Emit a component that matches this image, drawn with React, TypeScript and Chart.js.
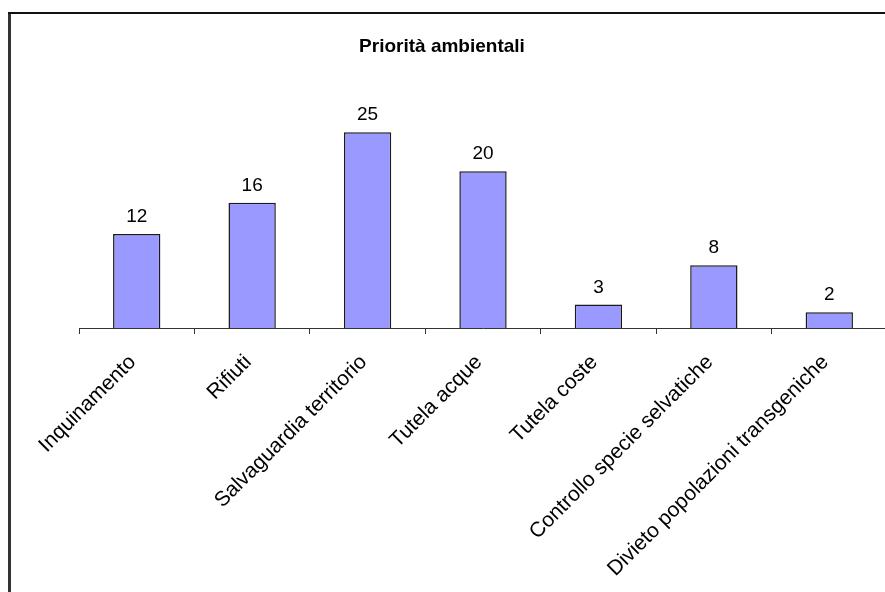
import React, { useEffect, useRef } from "react";
import { Chart, registerables } from "chart.js";

Chart.register(...registerables);

const TITLE = "Priorità ambientali";
const categories = [
  "Inquinamento",
  "Rifiuti",
  "Salvaguardia territorio",
  "Tutela acque",
  "Tutela coste",
  "Controllo specie selvatiche",
  "Divieto popolazioni transgeniche",
];
const values = [12, 16, 25, 20, 3, 8, 2];

const FONT = "'Liberation Sans', Arial, sans-serif";

const framePlugin = {
  id: "frame",
  beforeDraw(chart: any) {
    const ctx = chart.ctx;
    ctx.save();
    ctx.fillStyle = "#333333";
    ctx.fillRect(8, 13, 3, 700);
    ctx.fillStyle = "#111111";
    ctx.fillRect(8, 12, 1000, 2);
    ctx.restore();
  },
};

const titlePlugin = {
  id: "centerTitle",
  afterDraw(chart: any) {
    const ctx = chart.ctx;
    ctx.save();
    ctx.font = `bold 19px ${FONT}`;
    ctx.fillStyle = "#000";
    ctx.textAlign = "center";
    ctx.textBaseline = "middle";
    ctx.fillText(TITLE, 442, 47);
    ctx.restore();
  },
};

const valueLabelPlugin = {
  id: "valueLabels",
  afterDatasetsDraw(chart: any) {
    const ctx = chart.ctx;
    const meta = chart.getDatasetMeta(0);
    ctx.save();
    ctx.font = `19px ${FONT}`;
    ctx.fillStyle = "#000";
    ctx.textAlign = "center";
    ctx.textBaseline = "alphabetic";
    meta.data.forEach((bar: any, i: number) => {
      ctx.fillText(String(values[i]), bar.x, bar.y - 12);
    });
    ctx.restore();
  },
};

export default function App() {
  const ref = useRef<HTMLCanvasElement | null>(null);
  useEffect(() => {
    if (!ref.current) return;
    const chart = new Chart(ref.current, {
      type: "bar",
      data: {
        labels: categories,
        datasets: [
          {
            data: values,
            backgroundColor: "#9999FF",
            borderColor: "#1a1a1a",
            borderWidth: 1.5,
            borderSkipped: "bottom",
            categoryPercentage: 1,
            barPercentage: 0.41,
          },
        ],
      },
      options: {
        responsive: false,
        animation: false,
        devicePixelRatio: 1,
        layout: { padding: { left: 79, right: 13, top: 93, bottom: 0 } },
        plugins: {
          legend: { display: false },
          tooltip: { enabled: false },
          title: { display: false },
        },
        scales: {
          y: {
            display: false,
            min: 0,
            max: 30,
          },
          x: {
            offset: true,
            grid: {
              offset: true,
              drawOnChartArea: false,
              drawTicks: true,
              tickLength: 6,
              color: "#333",
            },
            border: { display: true, color: "#333", width: 1 },
            ticks: {
              minRotation: 45,
              maxRotation: 45,
              autoSkip: false,
              color: "#000",
              padding: 16,
              labelOffset: -4,
              font: { family: FONT, size: 21 },
            },
            afterFit: (scale: any) => {
              scale.height = 264;
            },
          },
        },
      },
      plugins: [framePlugin, valueLabelPlugin, titlePlugin],
    });
    return () => chart.destroy();
  }, []);
  return (
    <div
      style={{
        position: "absolute",
        left: 0,
        top: 0,
        width: 885,
        height: 592,
        overflow: "hidden",
        background: "#fff",
      }}
    >
      <canvas ref={ref} width={900} height={592} style={{ display: "block" }} />
    </div>
  );
}
